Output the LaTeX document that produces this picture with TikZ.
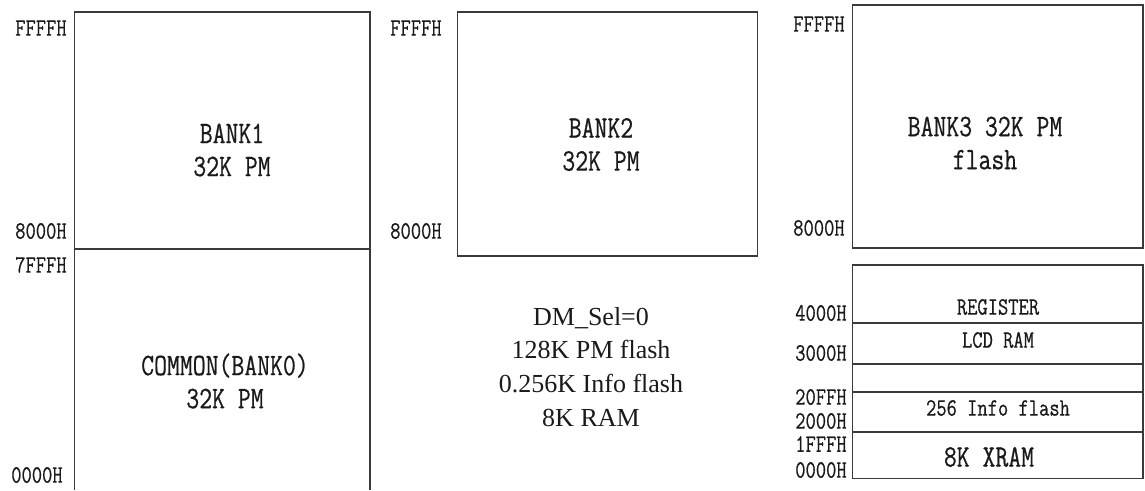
\documentclass[tikz,border=0pt]{standalone}
\usepackage{fontspec}
\setmainfont{Liberation Serif}
\newfontfamily\memfont[FakeStretch=0.8, FakeBold=0.6]{Latin Modern Mono}
\usetikzlibrary{positioning}
\definecolor{MapLine}{HTML}{3A3A3A}
\definecolor{MapText}{HTML}{1A1A1A}
\tikzset{
membox/.style={draw=MapLine, line width=0.6pt, inner sep=0pt, outer sep=0pt, minimum width=5.82cm},
memtitle/.style={align=center, text=MapText, inner sep=0pt, font=\memfont\fontsize{17.8}{18.8}\selectfont},
memsmall/.style={align=center, text=MapText, inner sep=0pt, font=\memfont\fontsize{14.2}{17}\selectfont},
addr/.style={anchor=east, inner sep=0pt, text=MapText, font=\memfont\fontsize{14.2}{17}\selectfont},
selnote/.style={align=center, text=MapText, inner sep=0pt, font=\fontsize{14.8}{19.3}\selectfont}
}

\begin{document}
\begin{tikzpicture}[x=0.02cm, y=-0.02cm]
\useasboundingbox (0,0) rectangle (1145,490);

\node[membox, minimum width=5.92cm, minimum height=4.74cm] (bank1) at (222,130.5) {};
\node[membox, draw=none, minimum width=5.92cm, minimum height=4.82cm] (bank0) at (222,369.5) {};
\draw[MapLine, line width=0.6pt] (bank0.south west) -- (bank0.north west) -- (bank0.north east) -- (bank0.south east);
\node[membox, minimum width=6cm, minimum height=4.88cm] (bank2) at (607.7,134) {};
\node[membox, minimum height=4.86cm] (bank3) at (997.5,126.5) {};

\node[membox, minimum height=1.16cm, anchor=north] (reg) at (997.5,265) {};
\node[membox, minimum height=0.82cm, below=0pt of reg] (lcd) {};
\node[membox, minimum height=0.56cm, below=0pt of lcd] (free) {};
\node[membox, minimum height=0.80cm, below=0pt of free] (info) {};
\node[membox, minimum height=0.94cm, below=0pt of info] (xram) {};

\node[memtitle] (bank1txt) at (232,150) {BANK1\\32K PM};
\node[memtitle] (bank0txt) at (225,381) {COMMON(BANK0)\\32K PM};
\node[memtitle] (bank2txt) at (601,144.5) {BANK2\\32K PM};
\node[memtitle] (bank3txt) at (985,143) {BANK3 32K PM\\flash};
\node[memsmall] (regtxt) at (998,307) {REGISTER};
\node[memsmall] (lcdtxt) at (998,340) {LCD RAM};
\node[memsmall] (infotxt) at (998,408) {256 Info flash};
\node[memtitle] (xramtxt) at (989,457) {8K XRAM};

\node[selnote] (sel) at (591,367) {DM\_Sel=0\\128K PM flash\\0.256K Info flash\\8K RAM};

\node[addr] (lffff) at (67,28) {FFFFH};
\node[addr] (l8000) at (67,231) {8000H};
\node[addr] (l7fff) at (67,265) {7FFFH};
\node[addr] (l0000) at (63,475) {0000H};
\node[addr] (mffff) at (442,28) {FFFFH};
\node[addr] (m8000) at (442,231) {8000H};
\node[addr] (rffff) at (845,24) {FFFFH};
\node[addr] (r8000) at (845,228) {8000H};
\node[addr] (r4000) at (847,313) {4000H};
\node[addr] (r3000) at (847,353) {3000H};
\node[addr] (r20ff) at (847,397) {20FFH};
\node[addr] (r2000) at (847,421) {2000H};
\node[addr] (r1fff) at (847,444) {1FFFH};
\node[addr] (r0000) at (847,470) {0000H};
\end{tikzpicture}
\end{document}
